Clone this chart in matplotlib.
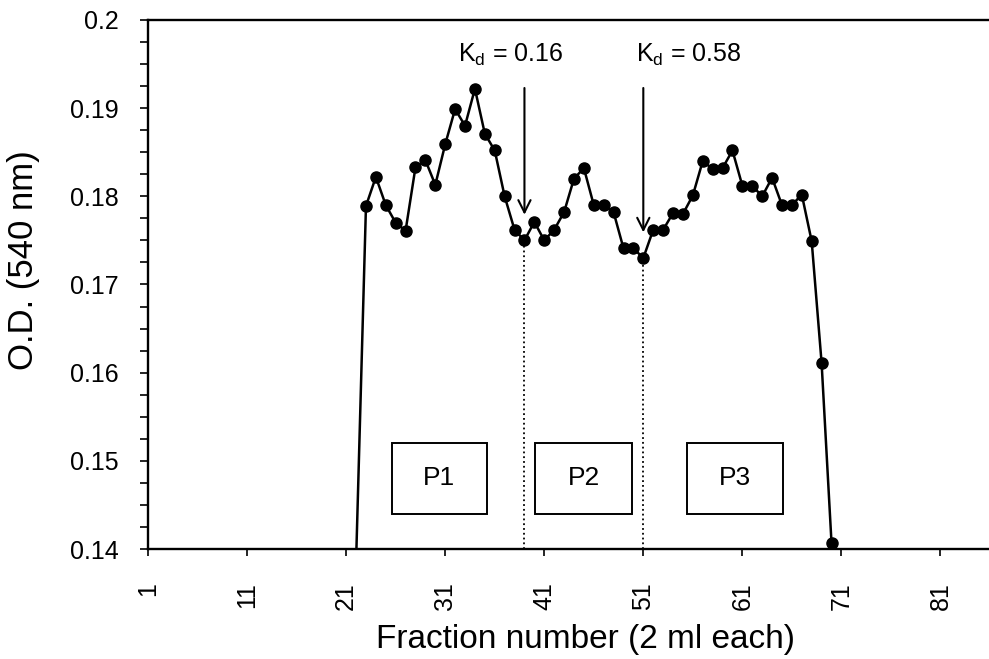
import matplotlib
matplotlib.use('Agg')
import numpy as np
import matplotlib.pyplot as plt
from matplotlib.patches import Rectangle
from matplotlib.ticker import MultipleLocator, FuncFormatter

plt.rcParams['font.family'] = ['Liberation Sans', 'DejaVu Sans']
plt.rcParams['mathtext.fontset'] = 'custom'
plt.rcParams['mathtext.rm'] = 'Liberation Sans'

# Fraction numbers and O.D. readings (first reading is below the axis floor)
fractions = list(range(22, 71))
od = [0.1385,
      0.1789, 0.1822, 0.1790, 0.1770, 0.1761, 0.1833, 0.1841, 0.1813,
      0.1859, 0.1899, 0.1880, 0.1922, 0.1871, 0.1852, 0.1800, 0.1762,
      0.1750, 0.1771, 0.1750, 0.1762, 0.1782, 0.1820, 0.1832, 0.1790,
      0.1790, 0.1782, 0.1741, 0.1741, 0.1730, 0.1762, 0.1762, 0.1781,
      0.1780, 0.1801, 0.1840, 0.1831, 0.1832, 0.1852, 0.1812, 0.1812,
      0.1800, 0.1821, 0.1790, 0.1790, 0.1802, 0.1749, 0.1611, 0.1407]

# Kd markers
kd_fractions = [39, 51]
kd_labels = ['K$_\\mathrm{d}$ = 0.16', 'K$_\\mathrm{d}$ = 0.58']
kd_text_x = [37.6, 55.6]

# Pooled peaks
peak_names = ['P1', 'P2', 'P3']
peak_spans = [(25.6, 35.2), (40.1, 49.9), (55.4, 65.1)]

y_min, y_max = 0.14, 0.2
x_ticks = list(range(1, 82, 10))


def plot_chart():
    fig = plt.figure(figsize=(9.89, 6.59), dpi=100)
    ax = fig.add_axes([0.1497, 0.1669, 0.8503, 0.8028])

    f = np.array(fractions)
    v = np.array(od)
    ax.plot(f, v, '-', color='black', lw=1.8)
    shown = v >= y_min
    ax.plot(f[shown], v[shown], 'o', color='black', ms=8, clip_on=False)

    # Kd arrows and dotted drop lines
    for kf, lab, tx in zip(kd_fractions, kd_labels, kd_text_x):
        kv = od[fractions.index(kf)]
        ax.vlines(kf, y_min, kv, colors='black', linestyles=':', lw=1.3)
        ax.annotate('', xy=(kf, kv + 0.0026), xytext=(kf, 0.1926),
                    arrowprops=dict(arrowstyle='->', lw=1.5, color='black',
                                    mutation_scale=22))
        ax.text(tx, 0.1960, lab, ha='center', va='center', fontsize=18)

    # Peak boxes
    for name, (x0, x1) in zip(peak_names, peak_spans):
        ax.add_patch(Rectangle((x0, 0.1440), x1 - x0, 0.0080, fill=False,
                               ec='black', lw=1.4))
        ax.text((x0 + x1) / 2, 0.1480, name, ha='center', va='center',
                fontsize=19)

    ax.set_xlim(1, 85.9)
    ax.set_ylim(y_min, y_max)
    ax.set_xticks(x_ticks)
    ax.set_xticklabels([str(t) for t in x_ticks], rotation=90)
    ax.yaxis.set_major_locator(MultipleLocator(0.01))
    ax.yaxis.set_minor_locator(MultipleLocator(0.0025))
    ax.yaxis.set_major_formatter(FuncFormatter(lambda y, p: f'{round(y, 3):g}'))
    ax.tick_params(axis='y', which='both', direction='out', length=6, width=1.2,
                   labelsize=18, pad=15)
    ax.tick_params(axis='x', direction='out', length=5, width=1.2,
                   labelsize=18, pad=19)

    ax.spines['right'].set_visible(False)
    for s in ['left', 'bottom', 'top']:
        ax.spines[s].set_linewidth(1.7)

    ax.set_xlabel('Fraction number (2 ml each)', fontsize=24)
    ax.xaxis.set_label_coords(0.52, -0.142)
    ax.set_ylabel('O.D. (540 nm)', fontsize=25)
    ax.yaxis.set_label_coords(-0.128, 0.546)

    fig.savefig('out.png', dpi=100)


if __name__ == '__main__':
    plot_chart()
